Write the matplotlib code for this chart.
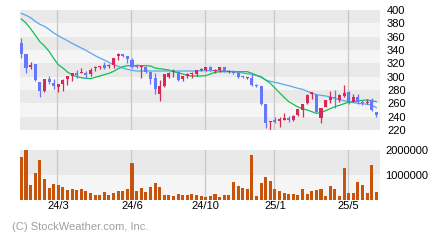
import matplotlib
matplotlib.use("Agg")
import matplotlib.pyplot as plt
import numpy as np

plt.rcParams['font.family'] = ['Liberation Sans', 'DejaVu Sans']

# ---- data (weekly-ish bars, index 0..77) ----
opens = [351, 334, 315, 318.5, 291.5, 278.5, 296.5, 290.5, 284, 289, 297, 301, 305, 306, 306, 304.5, 313.5, 315, 318, 316,
         317.5, 331.5, 333.5, 331, 325, 317.5, 314, 314.5, 307, 298, 274, 286, 299.5, 307.5, 307.5, 296.5, 301, 304, 304, 309.5,
         309.5, 314.5, 309, 309.5, 314.5, 307.5, 308.5, 305, 300.5, 297.5, 298.5, 287, 286, 259, 231.5, 235, 233.5, 235.5, 238.5, 235,
         242.5, 250, 260, 274, 272.5, 237.5, 255, 265, 269.5, 265, 271.5, 277.5, 262.5, 269.5, 262.5, 261, 265, 247]
highs = [358.5, 334, 322.5, 319, 291.5, 296.5, 301.5, 296.5, 288.5, 296, 301, 306, 309.5, 312.5, 309, 312.5, 316, 315.5, 322.5, 318.5,
         328.5, 336, 333.5, 331, 327.5, 319, 316, 314.5, 307, 306, 295, 304, 307.5, 311, 308, 301, 306, 307.5, 309.5, 313.5,
         314.5, 316, 311, 314.5, 314.5, 309.5, 310, 305, 301.5, 300, 304.5, 289, 286, 259, 234, 240, 239, 246, 241, 242.5,
         251.5, 259, 274, 276.5, 274, 253.5, 265, 278.5, 280, 274.5, 287.5, 278.5, 273.5, 273.5, 265, 266, 267.5, 247]
lows = [327.5, 305, 311.5, 293.5, 270, 276.5, 288.5, 281.5, 277.5, 278.5, 287.5, 293, 298, 306, 297.5, 301, 308.5, 311.5, 312, 313.5,
        312.5, 325, 329, 320, 312.5, 312.5, 298.5, 305, 289, 274, 264, 285, 298.5, 299, 294, 294, 297.5, 298.5, 300.5, 308,
        309, 308.5, 305, 307.5, 307.5, 305, 303.5, 298.5, 297.5, 296.5, 286, 285, 257.5, 222.5, 220, 230, 225, 235, 232.5, 234,
        241, 240, 259, 266.5, 246.5, 231, 254, 260, 252.5, 262.5, 270, 259.5, 261.5, 259.5, 257.5, 258.5, 248.5, 239.5]
closes = [334, 313.5, 317, 294.5, 278.5, 296.5, 291.5, 286, 288.5, 295.5, 301, 306, 302.5, 306.5, 302.5, 309.5, 314.5, 315.5, 313, 316.5,
          328, 334, 331, 326, 315, 314.5, 314.5, 307, 296.5, 281.5, 286, 304, 305.5, 308, 295, 301, 304, 305, 309.5, 311.5,
          314.5, 309.5, 309.5, 314.5, 307.5, 308, 305, 300, 299.5, 298, 287.5, 286, 259, 230, 234, 232, 236, 238.5, 235, 241,
          251.5, 259, 272.5, 276.5, 247.5, 252.5, 265, 270, 267.5, 272.5, 275, 261.5, 269, 262.5, 260, 261.5, 250, 242.5]
ma_long = [395, 392, 388.5, 383, 378.5, 375.5, 371, 365.5, 361.5, 357.5, 354, 350, 346.5, 343, 339.5, 335.5, 331.5, 328, 325, 321.5,
           318, 315.5, 313, 311, 309.5, 308.5, 308.5, 308.5, 308.5, 308.5, 308.5, 308.5, 308.5, 308.5, 308.5, 308.5, 308.5, 308.5, 308.5, 309,
           309, 309, 309, 309, 308.5, 308, 307.5, 306.5, 305.5, 304.5, 303.5, 302, 299, 295, 293, 291.5, 290, 288, 286.5, 284.5,
           282.5, 281, 278, 275.5, 273, 272, 271, 269.5, 267.5, 265.5, 264, 262.5, 261, 260, 259.5, 258.5, 257.5, 253.5]
ma_short = [386.5, 380.5, 372, 362.5, 352.5, 346, 338, 327.5, 318, 313, 307, 303, 300, 298.5, 297.5, 297, 299, 301, 303, 305,
            308, 312, 315, 316.5, 316.5, 316.5, 316.5, 316.5, 316, 313, 312, 311, 310, 307.5, 306, 304, 302, 301, 301, 301,
            301.5, 304, 306.5, 307.5, 307.5, 307.5, 307.5, 307.5, 307.5, 307.5, 305, 302, 300, 295, 290, 283, 276, 269, 262.5, 258.5,
            254.5, 252, 250, 247.5, 245, 246, 249, 252, 255, 257, 259.5, 261.5, 262.5, 263.5, 264.5, 265, 264, 262.5]
volume_k = [1730, 2000, 600, 1090, 1600, 850, 490, 650, 600, 520, 410, 440, 410, 440, 360, 290, 200, 200, 320, 200,
            280, 360, 360, 450, 1490, 370,
            490, 320, 530, 680, 520, 200, 200, 160, 240, 200, 200, 240, 200, 160, 120, 160, 240, 120, 200, 200,
            720, 560, 480, 440, 1800, 160,
            680, 920, 760, 440, 360, 280, 240, 240, 200, 440, 240, 360, 400, 440, 160, 560, 440, 160, 1280, 280,
            280, 720, 600, 280, 1400, 320]
tick_idx = [8, 24, 40, 55, 71]
tick_labels = ['24/3', '24/6', '24/10', '25/1', '25/5']
price_ticks = [220, 240, 260, 280, 300, 320, 340, 360, 380, 400]
vol_ticks = [1000000, 2000000]
vol_tick_labels = ['1000000', '2000000']

UP = '#d42a55'
DOWN = '#6478ff'
MA_L = '#5aa8f0'
MA_S = '#10c050'
VOLC = '#c8540c'
BAND_D = '#e9e9e9'
BAND_L = '#f5f5f5'
GRID = '#c8c8c8'

n = len(opens)
x = np.arange(n)
o = np.array(opens); c = np.array(closes); h = np.array(highs); l = np.array(lows)

fig = plt.figure(figsize=(4.4, 2.4), dpi=100)
fig.patch.set_facecolor('white')
W, H = 440, 240
ax = fig.add_axes([20 / W, 1 - 130 / H, 360 / W, 120 / H])
axv = fig.add_axes([20 / W, 1 - 200 / H, 360 / W, 50 / H])

xlim = (-0.3, n - 1 + 0.8)

# price panel
ax.set_xlim(*xlim)
ax.set_ylim(220, 400)
for k, lo in enumerate(range(220, 400, 20)):
    ax.axhspan(lo, lo + 20, color=BAND_D if k % 2 == 0 else BAND_L, lw=0, zorder=0)
for t in tick_idx:
    ax.axvline(t - 0.2, color=GRID, lw=0.9, zorder=1)
ax.plot(x, ma_long, color=MA_L, lw=0.9, zorder=2)
ax.plot(x, ma_short, color=MA_S, lw=0.9, zorder=2)
cols = np.where(c >= o, UP, DOWN)
ax.vlines(x, l, h, colors=cols, lw=0.9, zorder=3)
bottoms = np.minimum(o, c)
heights = np.maximum(np.abs(c - o), 1.4)
ax.bar(x, heights, bottom=bottoms, width=0.66, color=cols, lw=0, zorder=4)
ax.yaxis.tick_right()
ax.set_yticks(price_ticks)
ax.set_yticklabels([str(v) for v in price_ticks])
ax.tick_params(axis='y', length=0, pad=5, labelsize=8)
ax.set_xticks([])
for s in ax.spines.values():
    s.set_visible(False)

# volume panel
axv.set_xlim(*xlim)
axv.set_ylim(0, 2000000)
axv.axhspan(1000000, 2000000, color=BAND_D, lw=0, zorder=0)
axv.axhspan(0, 1000000, color=BAND_L, lw=0, zorder=0)
for t in tick_idx:
    axv.axvline(t - 0.2, color=GRID, lw=0.9, zorder=1)
axv.bar(x, np.array(volume_k) * 1000, width=0.66, color=VOLC, lw=0, zorder=2)
axv.yaxis.tick_right()
axv.set_yticks(vol_ticks)
axv.set_yticklabels(vol_tick_labels)
axv.tick_params(axis='y', length=0, pad=4, labelsize=8)
axv.set_xticks(tick_idx)
axv.set_xticklabels(tick_labels)
axv.tick_params(axis='x', length=0, pad=1, labelsize=8)
for s in axv.spines.values():
    s.set_visible(False)

fig.text(12 / W, 1 - 227 / H, '(C) StockWeather.com, Inc.', color='#a0a0a0', fontsize=8, va='center', ha='left')

fig.savefig('out.png', dpi=100)
